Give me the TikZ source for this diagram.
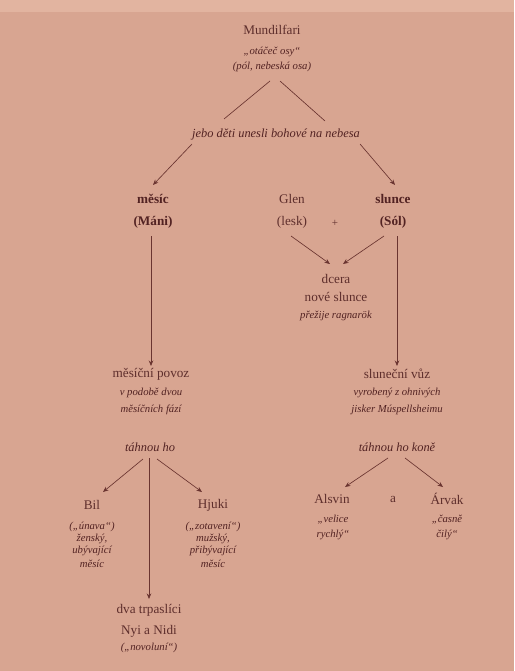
\documentclass[tikz,border=0pt]{standalone}
\usepackage{fontspec}
\setmainfont{Liberation Serif}
\usetikzlibrary{arrows.meta,calc}
\definecolor{paper}{RGB}{216,165,145}
\definecolor{paperlight}{RGB}{226,180,160}
\definecolor{ink}{RGB}{82,34,34}
\definecolor{inksoft}{RGB}{94,46,44}
\definecolor{inkline}{RGB}{106,52,48}
\tikzset{
  every node/.style={text=ink, inner sep=1pt},
  lbl/.style={font=\fontsize{13.2}{15}\selectfont, text=inksoft},
  boldlbl/.style={font=\fontsize{13.2}{15}\selectfont\bfseries},
  gloss/.style={font=\fontsize{12.4}{14}\selectfont\itshape},
  note/.style={font=\fontsize{10.7}{12}\selectfont\itshape},
  ln/.style={draw=inkline, line width=0.65pt},
  arr/.style={ln, -{Stealth[length=5.5pt,width=4.5pt]}},
}
\begin{document}
\begin{tikzpicture}[x=1pt,y=-1pt]
  % page
  \fill[paper] (0,0) rectangle (514,671);
  \fill[paperlight] (0,0) rectangle (514,12);
  \useasboundingbox (0,0) rectangle (514,671);

  % top: Mundilfari
  \node[lbl] (mund) at (272,30) {Mundilfari};
  \node[note] (otac) at (272,52) {„otáčeč osy“};
  \node[note] (pol) at (272,67) {(pól, nebeská osa)};
  \node[gloss] (jebo) at (276,135) {jebo děti unesli bohové na nebesa};

  % moon and sun
  \node[boldlbl] (mesic) at (153,199) {měsíc};
  \node[boldlbl] (mani) at (153,222) {(Máni)};
  \node[lbl] (glen) at (292,199) {Glen};
  \node[lbl] (lesk) at (292,222) {(lesk)};
  \node[font=\fontsize{11}{13}\selectfont, text=inksoft] (plus) at (335,223) {+};
  \node[boldlbl] (slunce) at (393,199) {slunce};
  \node[boldlbl] (sol) at (393,222) {(Sól)};

  % daughter
  \node[lbl] (dcera) at (336,279) {dcera};
  \node[lbl] (nove) at (336,297) {nové slunce};
  \node[note] (prezije) at (336,316) {přežije ragnarök};

  % carriages
  \node[lbl] (povoz) at (151,374) {měsíční povoz};
  \node[note] (vpod) at (151,393) {v podobě dvou};
  \node[note] (mesfaz) at (151,410) {měsíčních fází};
  \node[lbl] (vuz) at (397,374) {sluneční vůz};
  \node[note] (vyrob) at (397,393) {vyrobený z ohnivých};
  \node[note] (jisker) at (397,410) {jisker Múspellsheimu};

  \node[gloss] (tahL) at (150,447) {táhnou ho};
  \node[gloss] (tahR) at (397,447) {táhnou ho koně};

  % moon side
  \node[lbl] (bil) at (92,505) {Bil};
  \node[note] (unava) at (92,527) {(„únava“)};
  \node[note] (zensky) at (92,539) {ženský,};
  \node[note] (ubyv) at (92,551) {ubývající};
  \node[note] (mesicA) at (92,564) {měsíc};
  \node[lbl] (hjuki) at (213,505) {Hjuki};
  \node[note] (zot) at (213,527) {(„zotavení“)};
  \node[note] (muz) at (213,539) {mužský,};
  \node[note] (prib) at (213,551) {přibývající};
  \node[note] (mesicB) at (213,564) {měsíc};
  \node[lbl] (dva) at (149,610) {dva trpaslíci};
  \node[lbl] (nyi) at (149,631) {Nyi a Nidi};
  \node[note] (novol) at (149,648) {(„novoluní“)};

  % sun side
  \node[lbl] (alsvin) at (332,499) {Alsvin};
  \node[lbl] (and) at (393,499) {a};
  \node[lbl] (arvak) at (447,499) {Árvak};
  \node[note] (velice) at (333,520) {„velice};
  \node[note] (rychly) at (333,535) {rychlý“};
  \node[note] (casne) at (447,520) {„časně};
  \node[note] (cily) at (447,535) {čilý“};

  % connectors
  \draw[ln] ($(pol)+(-2,14)$) -- ($(jebo)+(-52,-16)$);
  \draw[ln] ($(pol)+(8,14)$) -- ($(jebo)+(49,-14)$);
  \draw[arr] ($(jebo)+(-84,9)$) -- ($(mesic)+(0,-14)$);
  \draw[arr] ($(jebo)+(84,9)$) -- ($(slunce)+(2,-14)$);
  \draw[arr] ($(lesk)+(-1,14)$) -- ($(dcera)+(-6,-15)$);
  \draw[arr] ($(sol)+(-9,14)$) -- ($(dcera)+(7,-15)$);
  \draw[arr] ($(mani)+(-2,14)$) -- ($(povoz)+(0,-8)$);
  \draw[arr] ($(sol)+(4,14)$) -- ($(vuz)+(0,-8)$);
  \draw[arr] ($(tahL)+(-7,12)$) -- ($(bil)+(11,-13)$);
  \draw[arr] ($(tahL)+(-1,11)$) -- ($(dva)+(0,-11)$);
  \draw[arr] ($(tahL)+(7,12)$) -- ($(hjuki)+(-11,-13)$);
  \draw[arr] ($(tahR)+(-9,11)$) -- ($(alsvin)+(13,-12)$);
  \draw[arr] ($(tahR)+(8,11)$) -- ($(arvak)+(-4,-12)$);
\end{tikzpicture}
\end{document}
